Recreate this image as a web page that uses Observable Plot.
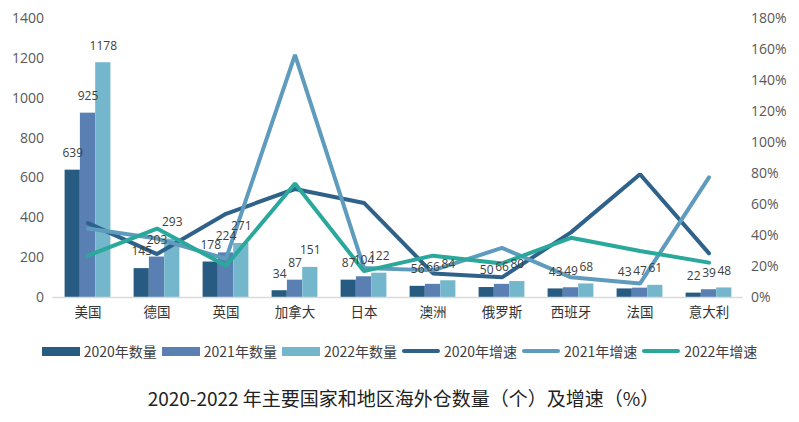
<!DOCTYPE html>
<html>
<head>
<meta charset="utf-8">
<script src="https://cdn.jsdelivr.net/npm/d3@7"></script>
<script src="https://cdn.jsdelivr.net/npm/@observablehq/plot@0.6"></script>
<style>
  body { margin: 0; background: #fff; font-family: "Open Sans", "Noto Sans CJK SC", sans-serif; }
  #wrap { width: 799px; height: 422px; position: relative; overflow: hidden; }
  #legend { display: flex; justify-content: center; align-items: center; gap: 5px; font-size: 14px; color: #404040; height: 22px; margin-top: 10px; font-family: "Noto Sans CJK SC", sans-serif; }
  .item { display: flex; align-items: center; gap: 4px; }
  .sw-rect { width: 38px; height: 9px; }
  .sw-line { width: 38px; height: 4px; border-radius: 2px; }
  #title { text-align: center; font-size: 19px; color: #222; margin-top: 22px; font-family: "Noto Sans CJK SC", sans-serif; padding-left: 8px; }
</style>
</head>
<body>
<div id="wrap">
  <div id="chart"></div>
  <div id="legend"></div>
  <div id="title">2020-2022 年主要国家和地区海外仓数量（个）及增速（%）</div>
</div>
<script>
const countries = ["美国", "德国", "英国", "加拿大", "日本", "澳洲", "俄罗斯", "西班牙", "法国", "意大利"];
const count2020 = [639, 145, 178, 34, 87, 56, 50, 43, 43, 22];
const count2021 = [925, 203, 224, 87, 104, 66, 66, 49, 47, 39];
const count2022 = [1178, 293, 271, 151, 122, 84, 80, 68, 61, 48];
const growth2020 = [48, 28, 54, 70, 61, 15.5, 13, 42, 79.5, 28.5];
const growth2021 = [44.5, 38, 25, 156.5, 19, 17.5, 32, 13, 9, 77.5];
const growth2022 = [27, 44.5, 20.5, 73.5, 17, 27, 22, 38.5, 30, 22.5];
const leftTicks = [0, 200, 400, 600, 800, 1000, 1200, 1400];
const rightTicks = [0, 20, 40, 60, 80, 100, 120, 140, 160, 180];
const years = ["2020", "2021", "2022"];
const barColors = ["#275b81", "#5a80b3", "#74b6cb"];
const lineColors = ["#2e628b", "#5f9bbd", "#2aa89b"];

const counts = [count2020, count2021, count2022];
const growths = [growth2020, growth2021, growth2022];
const ratio = 1400 / 180;

const barRows = years.map((yr, k) => countries.map((c, i) => ({country: c, value: counts[k][i]})));
const lineRows = years.map((yr, k) => countries.map((c, i) => ({country: c, g: growths[k][i] * ratio})));

const bandW = 69.1;
const barW = 15.3;
const groupStart = (bandW - 3 * barW) / 2;

const marks = [];
years.forEach((yr, k) => {
  const insetLeft = groupStart + k * barW;
  const insetRight = bandW - insetLeft - barW;
  marks.push(Plot.barY(barRows[k], {x: "country", y: "value", fill: barColors[k], insetLeft, insetRight}));
});
marks.push(Plot.ruleY([0], {stroke: "#d9d9d9", strokeWidth: 1.5}));
years.forEach((yr, k) => {
  marks.push(Plot.line(lineRows[k], {x: "country", y: "g", stroke: lineColors[k], strokeWidth: 4, strokeLinejoin: "miter"}));
});
years.forEach((yr, k) => {
  const dx = (k - 1) * barW;
  marks.push(Plot.text(barRows[k], {x: "country", y: "value", text: d => String(d.value), dx, dy: -17, fill: "#404040", fontSize: 12}));
});

const chart = Plot.plot({
  width: 799,
  height: 330,
  marginLeft: 52.5,
  marginRight: 56.5,
  marginTop: 18,
  marginBottom: 33,
  style: {fontFamily: "'Open Sans', 'Noto Sans CJK SC', sans-serif", background: "#fff"},
  x: {domain: countries, padding: 0, axis: null},
  y: {domain: [0, 1400], axis: null},
  marks: [
    Plot.axisY({ticks: leftTicks, tickFormat: d => String(d), tickSize: 0, tickPadding: 9, fontSize: 14, color: "#595959", label: null}),
    Plot.axisY({anchor: "right", ticks: rightTicks.map(v => v * ratio), tickFormat: v => Math.round(v / ratio) + "%", tickSize: 0, tickPadding: 8, fontSize: 14, color: "#595959", label: null}),
    Plot.axisX({tickSize: 0, tickPadding: 10, fontSize: 13.5, color: "#333", label: null, fontFamily: "'Noto Sans CJK SC', sans-serif"}),
    ...marks
  ]
});
document.getElementById("chart").appendChild(chart);

const legend = document.getElementById("legend");
const legendItems = [
  ...years.map((yr, k) => ({label: yr + "年数量", color: barColors[k], type: "rect"})),
  ...years.map((yr, k) => ({label: yr + "年增速", color: lineColors[k], type: "line"}))
];
legendItems.forEach(it => {
  const d = document.createElement("div");
  d.className = "item";
  const s = document.createElement("span");
  s.className = it.type === "rect" ? "sw-rect" : "sw-line";
  s.style.background = it.color;
  const t = document.createElement("span");
  t.textContent = it.label;
  d.appendChild(s); d.appendChild(t);
  legend.appendChild(d);
});
</script>
</body>
</html>
